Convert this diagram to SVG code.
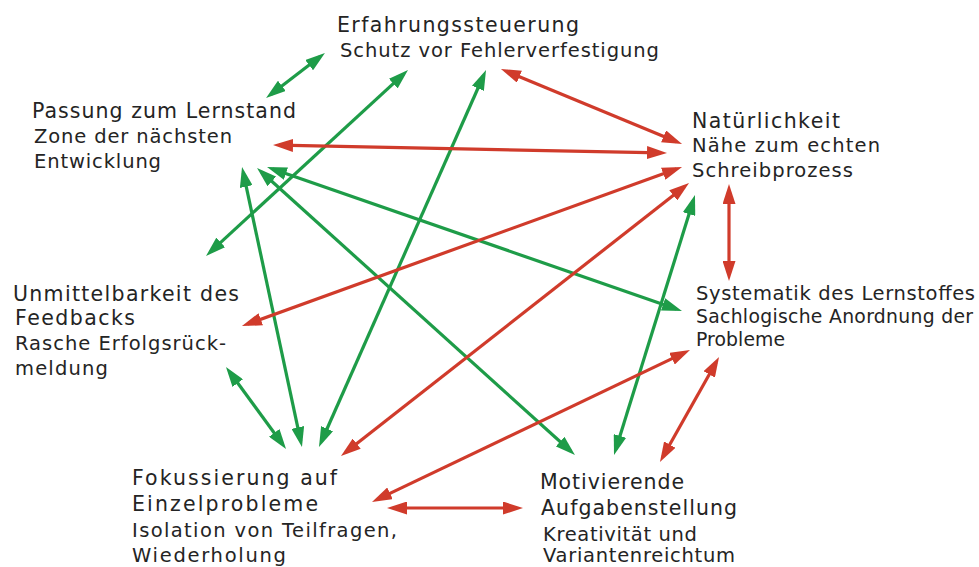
<svg xmlns="http://www.w3.org/2000/svg" width="979" height="567" viewBox="0 0 979 567">
<style>
text{font-family:"DejaVu Sans","Liberation Sans",sans-serif;fill:#242424}
.t{font-size:20.5px}
.s{font-size:19.5px}
.t2{font-size:19.5px}
.s2{font-size:18.8px}
.g{stroke:#1e9c48;stroke-width:3.2;fill:none;marker-start:url(#ag);marker-end:url(#ag)}
.r{stroke:#d03b2b;stroke-width:3.2;fill:none;marker-start:url(#ar);marker-end:url(#ar)}
</style>
<defs>
<marker id="ag" viewBox="0 0 20 13" refX="14" refY="6.5" markerWidth="20" markerHeight="13" markerUnits="userSpaceOnUse" orient="auto-start-reverse"><path d="M0,0 L20,6.5 L0,13 z" fill="#1e9c48"/></marker>
<marker id="ar" viewBox="0 0 20 13" refX="14" refY="6.5" markerWidth="20" markerHeight="13" markerUnits="userSpaceOnUse" orient="auto-start-reverse"><path d="M0,0 L20,6.5 L0,13 z" fill="#d03b2b"/></marker>
</defs>
<rect width="979" height="567" fill="#fff"/>
<g id="connectors">
<line class="g" x1="270.8" y1="94.4" x2="320.2" y2="56.6"/>
<line class="g" x1="210.4" y1="251.9" x2="403.6" y2="74.1"/>
<line class="g" x1="321.4" y1="441.5" x2="483.6" y2="75.5"/>
<line class="g" x1="243.3" y1="172.9" x2="300.7" y2="441.1"/>
<line class="g" x1="272.7" y1="169.0" x2="676.3" y2="309.0"/>
<line class="g" x1="261.5" y1="172.0" x2="570.5" y2="451.0"/>
<line class="g" x1="615.8" y1="449.3" x2="693.2" y2="200.7"/>
<line class="g" x1="229.5" y1="371.8" x2="282.5" y2="444.2"/>
<line class="r" x1="506.5" y1="71.3" x2="676.5" y2="141.7"/>
<line class="r" x1="279" y1="145.1" x2="661" y2="152.9"/>
<line class="r" x1="247.6" y1="324.0" x2="676.4" y2="169.0"/>
<line class="r" x1="345.7" y1="452.3" x2="684.3" y2="186.7"/>
<line class="r" x1="729" y1="190" x2="729" y2="275"/>
<line class="r" x1="377.4" y1="499.4" x2="684.6" y2="352.6"/>
<line class="r" x1="393" y1="508" x2="517" y2="508"/>
<line class="r" x1="662.9" y1="456.8" x2="716.1" y2="362.2"/>
</g>
<g id="erfahrung">
<text class="t" x="337" y="32" textLength="242" lengthAdjust="spacing">Erfahrungssteuerung</text>
<text class="s" x="340" y="57" textLength="319" lengthAdjust="spacing">Schutz vor Fehlerverfestigung</text>
</g>
<g id="passung">
<text class="t" x="32" y="118" textLength="264" lengthAdjust="spacing">Passung zum Lernstand</text>
<text class="s" x="34" y="143" textLength="198" lengthAdjust="spacing">Zone der nächsten</text>
<text class="s" x="34" y="168" textLength="127" lengthAdjust="spacing">Entwicklung</text>
</g>
<g id="natuerlichkeit">
<text class="t" x="692" y="128" textLength="148" lengthAdjust="spacing">Natürlichkeit</text>
<text class="s" x="692" y="152" textLength="188" lengthAdjust="spacing">Nähe zum echten</text>
<text class="s" x="692" y="177" textLength="161" lengthAdjust="spacing">Schreibprozess</text>
</g>
<g id="unmittelbarkeit">
<text class="t" x="13" y="301" textLength="226" lengthAdjust="spacing">Unmittelbarkeit des</text>
<text class="t" x="15" y="325" textLength="120" lengthAdjust="spacing">Feedbacks</text>
<text class="s" x="15" y="350" textLength="211" lengthAdjust="spacing">Rasche Erfolgsrück-</text>
<text class="s" x="15" y="375" textLength="93" lengthAdjust="spacing">meldung</text>
</g>
<g id="systematik">
<text class="t2" x="696" y="300" textLength="279" lengthAdjust="spacing">Systematik des Lernstoffes</text>
<text class="s2" x="696" y="323" textLength="277" lengthAdjust="spacing">Sachlogische Anordnung der</text>
<text class="s2" x="696" y="346" textLength="89" lengthAdjust="spacing">Probleme</text>
</g>
<g id="fokussierung">
<text class="t" x="132" y="485" textLength="205" lengthAdjust="spacing">Fokussierung auf</text>
<text class="t" x="132" y="511" textLength="186" lengthAdjust="spacing">Einzelprobleme</text>
<text class="s" x="132" y="537" textLength="265" lengthAdjust="spacing">Isolation von Teilfragen,</text>
<text class="s" x="132" y="562" textLength="154" lengthAdjust="spacing">Wiederholung</text>
</g>
<g id="motivierende">
<text class="t" x="540" y="489" textLength="144" lengthAdjust="spacing">Motivierende</text>
<text class="t" x="541" y="515" textLength="196" lengthAdjust="spacing">Aufgabenstellung</text>
<text class="s" x="543" y="541" textLength="154" lengthAdjust="spacing">Kreativität und</text>
<text class="s" x="543" y="562" textLength="192" lengthAdjust="spacing">Variantenreichtum</text>
</g>
</svg>
